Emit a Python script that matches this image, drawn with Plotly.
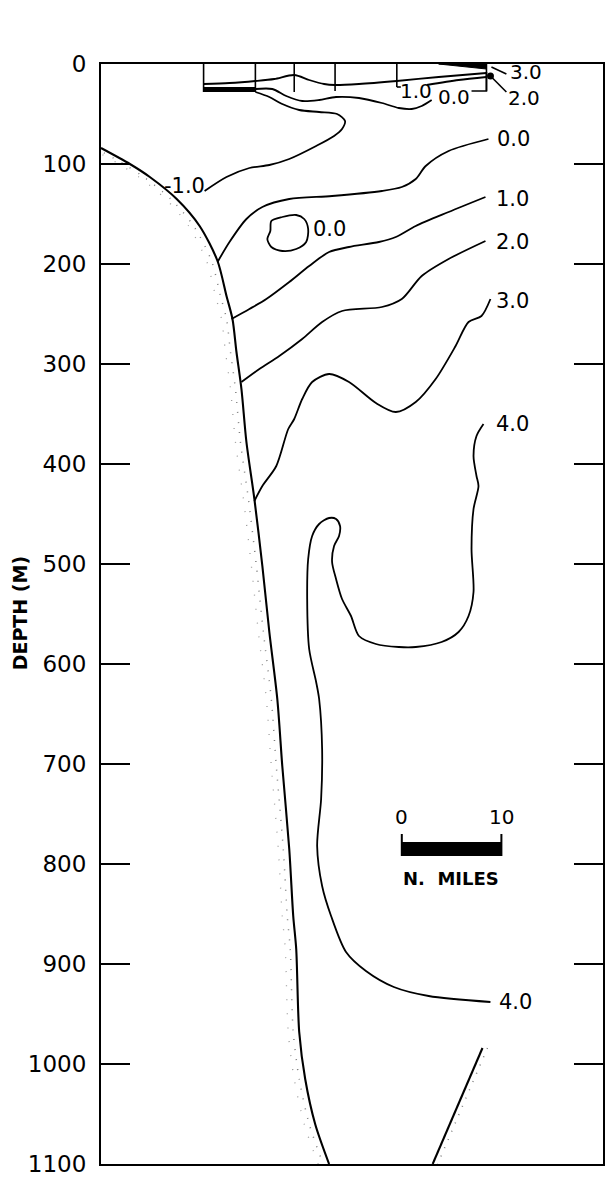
import plotly.graph_objects as go

FONT = "DejaVu Sans"
INK = "black"

# ---- axes -------------------------------------------------------------
DEPTH_TICKS = list(range(0, 1101, 100))
X_RANGE = [0, 50.4]          # distance along section, n. miles
Z_RANGE = [1100, 0]          # depth, m (downwards)

# ---- stations ---------------------------------------------------------
STATIONS = ["11185", "84", "83", "82", "81", "11180"]
STATION_MI = [10.3, 15.5, 19.4, 23.5, 29.7, 38.7]
STATION_DROP = [28, 28, 28, 27, 23, 27]

# ---- bottom topography ------------------------------------------------
SLOPE_W_X = [0, 2.9, 4.9, 7.6, 9.9, 11.7, 12.6, 13.2, 13.6, 14.1, 14.6, 15.4,
             16.2, 16.9, 17.7, 18.2, 18.9, 19.3, 19.6, 19.9, 20.5, 21.5, 22.9]
SLOPE_W_Z = [84, 100, 113, 135, 162, 197, 232, 255, 288, 325, 378, 435,
             502, 568, 635, 702, 785, 852, 885, 968, 1015, 1060, 1100]
SLOPE_E_X = [38.3, 33.3]
SLOPE_E_Z = [984, 1100]

# ---- isotherms (deg C) ------------------------------------------------
ISO_M1_X = [15.5, 16.9, 18.2, 19.9, 21.9, 23.7, 24.5, 24.2, 23.4, 21.6, 18.9, 16.9, 14.9, 12.6, 10.4]
ISO_M1_Z = [28, 33, 40, 46, 48, 50, 57, 65, 72, 82, 95, 101, 104, 113, 127]

ISO_0S_X = [15.5, 17.2, 18.6, 20.2, 21.9, 23.6, 25.9, 28.2, 29.9, 31.2, 32.2, 33.2]
ISO_0S_Z = [25, 25, 32, 37, 36, 33, 34, 39, 44, 45, 42, 36]
ISO_0B_X = [37.2, 38.7, 38.7]
ISO_0B_Z = [27, 27, 8]

ISO_SURF_X = [10.3, 12.9, 15.5, 17.4, 19.4, 20.9, 22.4, 23.5, 25.9, 29.7, 33.9, 38.7]
ISO_SURF_Z = [20, 19, 17, 15, 11, 16, 20, 21, 20, 17, 13, 9]

ISO_1S_X = [32.7, 35.9, 38.7]
ISO_1S_Z = [21, 16, 13]

WEDGE_X = [33.9, 38.7, 38.7, 33.9]
WEDGE_Z = [0, 0, 5, 0]

ISO_0_X = [38.9, 34.9, 32.6, 31.6, 30.2, 28.2, 23.2, 18.9, 16.2, 14.6, 12.9, 11.7]
ISO_0_Z = [75, 87, 102, 115, 123, 127, 132, 135, 143, 155, 178, 198]

EDDY_X = [17.1, 18.2, 19.6, 20.4, 20.8, 20.6, 19.6, 18.2, 17.1, 16.7, 17.0, 17.1]
EDDY_Z = [157, 153, 151, 155, 165, 178, 185, 187, 183, 175, 167, 157]

ISO_1_X = [38.6, 34.9, 31.6, 29.6, 27.9, 24.9, 22.9, 20.9, 18.9, 16.6, 14.9, 13.1]
ISO_1_Z = [133, 148, 162, 173, 178, 183, 188, 202, 218, 235, 245, 255]

ISO_2_X = [38.6, 34.9, 32.2, 30.2, 28.2, 24.2, 22.2, 20.2, 17.9, 15.9, 14.1]
ISO_2_Z = [177, 195, 212, 235, 243, 247, 258, 275, 292, 305, 318]

ISO_3_X = [39.1, 38.2, 36.9, 35.6, 33.6, 31.6, 29.6, 27.6, 24.9, 22.9, 21.2,
           20.2, 19.4, 18.8, 17.6, 16.2, 15.4]
ISO_3_Z = [235, 252, 258, 282, 315, 338, 348, 339, 318, 310, 318,
           335, 355, 365, 402, 422, 437]

ISO_4_X = [38.4, 37.7, 37.4, 37.7, 37.9, 37.4, 37.2, 37.4, 36.9, 35.9, 34.2, 31.6,
           29.9, 27.6, 25.9, 25.1, 24.2, 23.6, 23.2, 23.4, 23.9, 24.0, 23.6, 22.9,
           21.9, 21.2, 20.8, 20.7, 20.9, 21.6, 21.9, 22.2, 22.1, 21.7, 22.2, 23.1,
           24.6, 26.6, 29.4, 32.9, 39.1]
ISO_4_Z = [360, 372, 392, 412, 422, 445, 485, 528, 552, 568, 578, 583,
           583, 580, 572, 552, 535, 515, 498, 482, 472, 462, 455, 454,
           460, 472, 495, 535, 585, 618, 635, 685, 735, 782, 822, 852,
           888, 907, 923, 932, 938]

# leader lines and marker for the warm surface water at 11180
LEADER_3_X = [39.2, 40.7]
LEADER_3_Z = [3, 10]
LEADER_2_X = [39.3, 40.7]
LEADER_2_Z = [14, 28]
SURF_DOT_X = [39.1]
SURF_DOT_Z = [12]

# isotherm labels: text, left edge (n. mi), depth (m), font size
LABEL_TEXT = ["-1.0", "0.0", "1.0", "3.0", "2.0", "0.0", "0.0", "1.0",
              "2.0", "3.0", "4.0", "4.0"]
LABEL_X = [6.1, 33.6, 29.8, 40.9, 40.7, 39.6, 21.1, 39.5, 39.5, 39.5, 39.5, 39.8]
LABEL_Z = [122, 33, 27, 8, 34, 75, 165, 135, 178, 237, 360, 938]
LABEL_SIZE = [21, 20, 20, 20, 20, 21, 21, 21, 21, 21, 21, 21]

# distance scale
SCALE_TICKS = [0, 10]
SCALE_X0 = 30.2
SCALE_Z = 785

fig = go.Figure()


def add_line(x, z, width=1.8, color=INK, dash=None, shape="spline", smoothing=0.8,
             fill=None):
    fig.add_trace(go.Scatter(
        x=x, y=z, mode="lines",
        line=dict(color=color, width=width, dash=dash, shape=shape,
                  smoothing=smoothing),
        fill=fill, fillcolor=color if fill else None,
        hoverinfo="skip", showlegend=False))


# sediment stipple along the slopes
add_line([x - 0.6 for x in SLOPE_W_X], SLOPE_W_Z, width=1.5, color="#808080",
         dash="1px,9px")
add_line([x - 1.1 for x in SLOPE_W_X], SLOPE_W_Z, width=1.3, color="#a0a0a0",
         dash="1px,13px")
add_line([x + 0.5 for x in SLOPE_E_X], SLOPE_E_Z, width=1.5, color="#808080",
         dash="1px,8px", shape="linear")

# sea floor
add_line(SLOPE_W_X, SLOPE_W_Z, width=2.1)
add_line(SLOPE_E_X, SLOPE_E_Z, width=2.1, shape="linear")

# station drop lines and the shallow bar under 11185-84
for sx, sd in zip(STATION_MI, STATION_DROP):
    add_line([sx, sx], [0, sd], width=1.6, shape="linear")
add_line([STATION_MI[4], STATION_MI[4] + 0.4], [STATION_DROP[4]] * 2, width=1.6,
         shape="linear")
add_line([STATION_MI[0], STATION_MI[1]], [25.5, 25.5], width=5, shape="linear")

# isotherms
for xs, zs in [(ISO_M1_X, ISO_M1_Z), (ISO_0S_X, ISO_0S_Z), (ISO_SURF_X, ISO_SURF_Z),
               (ISO_1S_X, ISO_1S_Z), (ISO_0_X, ISO_0_Z), (EDDY_X, EDDY_Z),
               (ISO_1_X, ISO_1_Z), (ISO_2_X, ISO_2_Z), (ISO_3_X, ISO_3_Z),
               (ISO_4_X, ISO_4_Z)]:
    add_line(xs, zs)
add_line(ISO_0B_X, ISO_0B_Z, width=1.6, shape="linear")
add_line(WEDGE_X, WEDGE_Z, width=1, shape="linear", fill="toself")
add_line(LEADER_3_X, LEADER_3_Z, width=1.6, shape="linear")
add_line(LEADER_2_X, LEADER_2_Z, width=1.6, shape="linear")
fig.add_trace(go.Scatter(x=SURF_DOT_X, y=SURF_DOT_Z, mode="markers",
                         marker=dict(color=INK, size=7), hoverinfo="skip",
                         showlegend=False))

# scale bar
sx0, sx1 = SCALE_X0 + SCALE_TICKS[0], SCALE_X0 + SCALE_TICKS[1]
add_line([sx0, sx1], [SCALE_Z, SCALE_Z], width=14, shape="linear")
add_line([sx0, sx0], [SCALE_Z - 15, SCALE_Z + 7], width=2, shape="linear")
add_line([sx1, sx1], [SCALE_Z - 15, SCALE_Z + 7], width=2, shape="linear")

annotations = []
for t, x, z, s in zip(LABEL_TEXT, LABEL_X, LABEL_Z, LABEL_SIZE):
    annotations.append(dict(x=x, y=z, xref="x", yref="y", text=t, showarrow=False,
                            xanchor="left", yanchor="middle",
                            font=dict(family=FONT, size=s, color=INK)))
for v in SCALE_TICKS:
    annotations.append(dict(x=SCALE_X0 + v, y=SCALE_Z - 32, xref="x", yref="y",
                            text=str(v), showarrow=False, xanchor="center",
                            yanchor="middle",
                            font=dict(family=FONT, size=20, color=INK)))
annotations.append(dict(x=SCALE_X0 - 0.1, y=SCALE_Z + 29, xref="x", yref="y",
                        text="<b>N.  MILES</b>", showarrow=False, xanchor="left",
                        yanchor="middle", font=dict(family=FONT, size=18, color=INK)))
for name, sx in zip(STATIONS, STATION_MI):
    annotations.append(dict(x=sx, y=-16, xref="x", yref="y", text=name,
                            showarrow=False, xanchor="center", yanchor="middle",
                            font=dict(family=FONT, size=19, color=INK)))
annotations.append(dict(x=25.5, y=-41, xref="x", yref="y", text="STATION",
                        showarrow=False, xanchor="center", yanchor="middle",
                        font=dict(family=FONT, size=22, color=INK)))
# vertical axis title, placed in paper space left of the depth labels
annotations.append(dict(x=-81 / 504, y=1 - (614 - 64) / 1102, xref="paper",
                        yref="paper", text="<b>DEPTH (M)</b>", showarrow=False,
                        textangle=-90, xanchor="center", yanchor="middle",
                        font=dict(family=FONT, size=19, color=INK)))

fig.update_layout(
    width=608, height=1180,
    margin=dict(l=101, r=3, t=64, b=14),
    paper_bgcolor="white", plot_bgcolor="white",
    annotations=annotations,
    xaxis=dict(range=X_RANGE, showline=True, mirror=True, linecolor=INK,
               linewidth=2, showgrid=False, zeroline=False, showticklabels=False,
               ticks=""),
    yaxis=dict(range=Z_RANGE, tickvals=DEPTH_TICKS,
               ticktext=[str(v) for v in DEPTH_TICKS],
               showline=True, mirror="ticks", linecolor=INK, linewidth=2,
               ticks="inside", ticklen=29, tickwidth=2, tickcolor=INK,
               showgrid=False, zeroline=False, ticklabelstandoff=8,
               tickfont=dict(family=FONT, size=23, color=INK)),
)

fig.write_html("out.html")
